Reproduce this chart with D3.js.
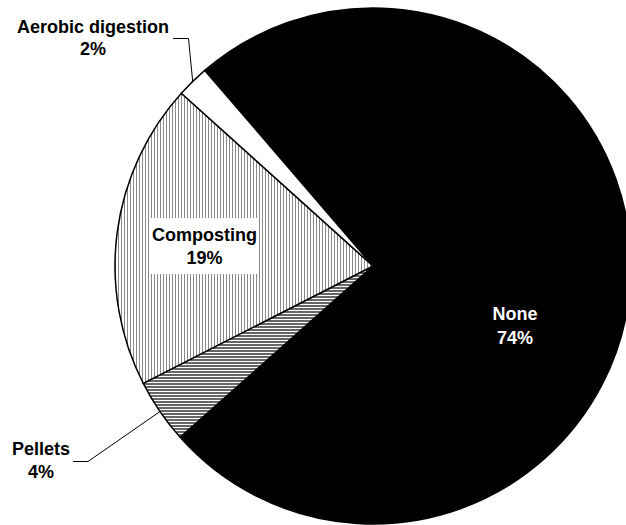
<!DOCTYPE html>
<html>
<head>
<meta charset="utf-8">
<script src="https://cdn.jsdelivr.net/npm/d3@7/dist/d3.min.js"></script>
<style>
  html, body { margin: 0; padding: 0; background: #fff; }
  svg { display: block; }
  text { font-family: "Liberation Sans", Arial, Helvetica, sans-serif; font-weight: bold; font-size: 18px; }
</style>
</head>
<body>
<svg id="chart" width="626" height="525"></svg>
<script>
// Share of treatment methods (percent), in drawing order clockwise
const categories = ["None", "Pellets", "Composting", "Aerobic digestion"];
const percents = [74, 4, 19, 2];
const percentLabels = ["74%", "4%", "19%", "2%"];

const width = 626, height = 525;
const cx = 373, cy = 266, radius = 258;
const startAngle = -40.7 * Math.PI / 180;

const svg = d3.select("#chart");
const defs = svg.append("defs");

// vertical hatching for composting
const pv = defs.append("pattern")
  .attr("id", "vlines").attr("patternUnits", "userSpaceOnUse")
  .attr("width", 3).attr("height", 3);
pv.append("rect").attr("width", 3).attr("height", 3).attr("fill", "#fff");
pv.append("rect").attr("x", 0).attr("width", 1).attr("height", 3).attr("fill", "#8a8a8a");

// horizontal hatching for pellets
const ph = defs.append("pattern")
  .attr("id", "hlines").attr("patternUnits", "userSpaceOnUse")
  .attr("width", 3).attr("height", 3);
ph.append("rect").attr("width", 3).attr("height", 3).attr("fill", "#fff");
ph.append("rect").attr("y", 0).attr("width", 3).attr("height", 2).attr("fill", "#666");

const fills = d3.scaleOrdinal()
  .domain(categories)
  .range(["#000", "url(#hlines)", "url(#vlines)", "#fff"]);

const pie = d3.pie()
  .sort(null)
  .value(d => d.value)
  .startAngle(startAngle)
  .endAngle(startAngle + 2 * Math.PI);

const data = categories.map((c, i) => ({ name: c, value: percents[i], label: percentLabels[i] }));
const arcs = pie(data);

const arc = d3.arc().innerRadius(0).outerRadius(radius);

const g = svg.append("g").attr("transform", `translate(${cx},${cy})`);

g.selectAll("path.slice")
  .data(arcs)
  .join("path")
  .attr("class", "slice")
  .attr("d", arc)
  .attr("fill", d => fills(d.data.name))
  .attr("stroke", "#000")
  .attr("stroke-width", 1.5)
  .attr("stroke-linejoin", "round");

// point on the rim at the middle of a slice
function rimPoint(d) {
  const a = (d.startAngle + d.endAngle) / 2;
  return [cx + radius * Math.sin(a), cy - radius * Math.cos(a)];
}

const byName = {};
arcs.forEach(d => { byName[d.data.name] = d; });

// leader lines
const lineGen = d3.line();
const aer = rimPoint(byName["Aerobic digestion"]);
svg.append("path")
  .attr("d", lineGen([[173, 38.5], [188.5, 38.5], aer]))
  .attr("fill", "none").attr("stroke", "#000").attr("stroke-width", 1);

const pel = rimPoint(byName["Pellets"]);
svg.append("path")
  .attr("d", lineGen([[73, 461.5], [88, 461.5], pel]))
  .attr("fill", "none").attr("stroke", "#000").attr("stroke-width", 1);

// labels
function twoLine(x, y1, y2, name, pct, color) {
  const t = svg.append("g");
  t.append("text").attr("x", x).attr("y", y1).attr("text-anchor", "middle").attr("fill", color).text(name);
  t.append("text").attr("x", x).attr("y", y2).attr("text-anchor", "middle").attr("fill", color).text(pct);
  return t;
}

const nd = byName["None"].data;
twoLine(515, 320, 344, nd.name, nd.label, "#fff");

const ad = byName["Aerobic digestion"].data;
twoLine(93, 32.5, 55, ad.name, ad.label, "#000");

const pd = byName["Pellets"].data;
twoLine(41, 455, 477.5, pd.name, pd.label, "#000");

const cd = byName["Composting"].data;
svg.append("rect").attr("x", 149).attr("y", 218).attr("width", 110).attr("height", 56).attr("fill", "#fff");
twoLine(204.5, 240.5, 263.5, cd.name, cd.label, "#000");
</script>
</body>
</html>
